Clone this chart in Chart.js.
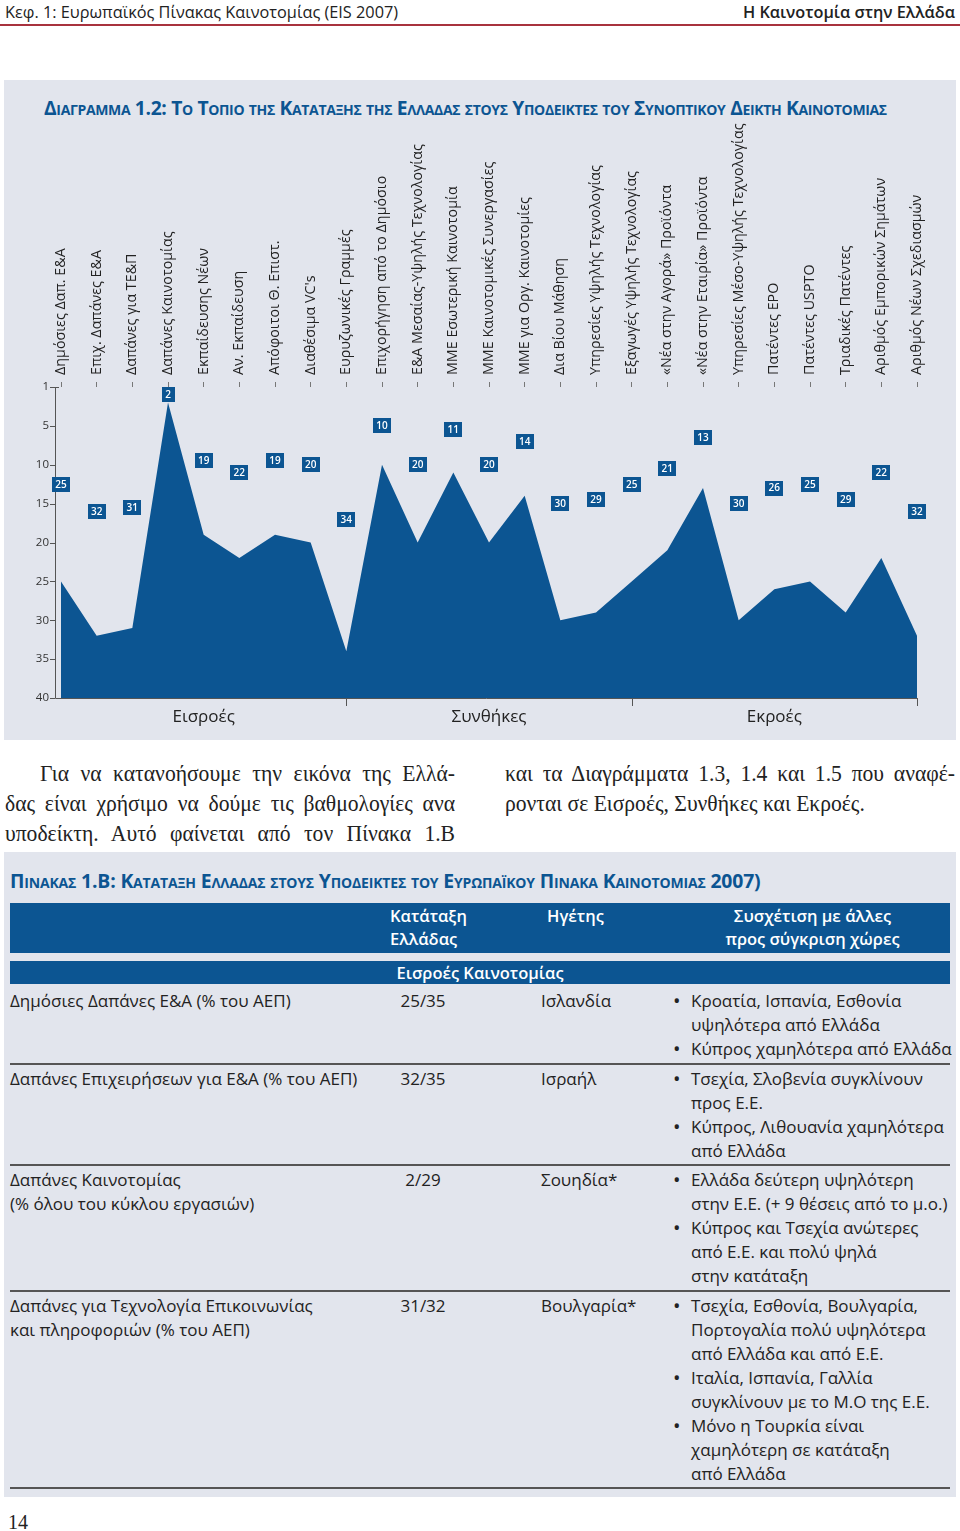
<!DOCTYPE html>
<html lang="el">
<head>
<meta charset="utf-8">
<title>Διάγραμμα 1.2</title>
<script src="https://cdn.jsdelivr.net/npm/chart.js@4.4.0/dist/chart.umd.min.js"></script>
<style>
  html, body { margin: 0; padding: 0; background: #fff; }
  body { width: 960px; height: 1531px; position: relative; overflow: hidden; font-family: "Open Sans", sans-serif; color: #222; }
  .head-l { position: absolute; left: 5px; top: 1px; font-size: 16.3px; color: #222; }
  .head-r { position: absolute; right: 5px; top: 1px; font-size: 16.3px; font-weight: 600; color: #222; }
  .head-line { position: absolute; left: 0; top: 24px; width: 960px; height: 2px; background: #a8323e; }
  .panel { position: absolute; left: 4px; top: 80px; width: 952px; height: 660px; background: #e2e5ed; }
  .title { position: absolute; left: 44px; top: 94px; font-size: 19.3px; font-weight: 700; color: #0c5592; font-variant: small-caps; letter-spacing: -0.35px; white-space: nowrap; }
  #chartBox { position: absolute; left: 4px; top: 120px; width: 952px; height: 620px; }
  .para { position: absolute; font-family: "Liberation Serif", serif; font-size: 24px; line-height: 30px; color: #222; }
  .para div { width: 500px; transform: scaleX(0.9); transform-origin: 0 0; text-align: justify; text-align-last: justify; white-space: nowrap; }
  .tpanel { position: absolute; left: 4px; top: 852px; width: 952px; height: 645px; background: #e2e5ed; }
  .ttitle { position: absolute; left: 10px; top: 867px; font-size: 19.4px; font-weight: 700; color: #0c5592; font-variant: small-caps; letter-spacing: -0.17px; white-space: nowrap; }
  .bar { position: absolute; left: 10px; width: 940px; background: #0c5592; color: #fff; font-size: 16.5px; font-weight: 600; }
  .rows { position: absolute; left: 10px; top: 987px; width: 940px; font-size: 17px; line-height: 24px; color: #222; }
  .row { display: grid; grid-template-columns: 380px 151px 134px 275px; padding: 2px 0 1.5px 0; border-bottom: 2px solid #555; white-space: nowrap; }
  .rank { display: inline-block; width: 66px; text-align: center; }
  .b { position: relative; padding-left: 16px; }
  .b::before { content: "\2022"; position: absolute; left: -2px; top: 0; font-size: 20px; }
  .pg { position: absolute; left: 8px; top: 1511px; font-family: "Liberation Serif", serif; font-size: 20px; color: #222; }
</style>
</head>
<body>
<div class="head-l">Κεφ. 1: Ευρωπαϊκός Πίνακας Καινοτομίας (EIS 2007)</div>
<div class="head-r">Η Καινοτομία στην Ελλάδα</div>
<div class="head-line"></div>

<div class="panel"></div>
<div class="title">Διαγραμμα 1.2: Το Τοπιο της Καταταξης της Ελλαδας στους Υποδεικτες του Συνοπτικου Δεικτη Καινοτομιας</div>
<div id="chartBox"><canvas id="landscape"></canvas></div>

<div class="para" style="left:5px; top:758px;">
  <div style="padding-left:39px; width:461px;">Για να κατανοήσουμε την εικόνα της Ελλά-</div>
  <div>δας είναι χρήσιμο να δούμε τις βαθμολογίες ανα</div>
  <div>υποδείκτη. Αυτό φαίνεται από τον Πίνακα 1.Β</div>
</div>
<div class="para" style="left:505px; top:758px;">
  <div>και τα Διαγράμματα 1.3, 1.4 και 1.5 που αναφέ-</div>
  <div style="text-align-last:left;">ρονται σε Εισροές, Συνθήκες και Εκροές.</div>
</div>

<div class="tpanel"></div>
<div class="ttitle">Πινακας 1.Β: Καταταξη Ελλαδας στους Υποδεικτες του Ευρωπαϊκου Πινακα Καινοτομιας 2007)</div>
<div class="bar" style="top:903px; height:50px; line-height:23px;">
  <div style="position:absolute; left:380px; top:1px;">Κατάταξη<br>Ελλάδας</div>
  <div style="position:absolute; left:537px; top:1px;">Ηγέτης</div>
  <div style="position:absolute; left:665px; width:275px; top:1px; text-align:center;">Συσχέτιση με άλλες<br>προς σύγκριση χώρες</div>
</div>
<div class="bar" style="top:961px; height:23px; line-height:23px; text-align:center;">Εισροές Καινοτομίας</div>

<div class="rows">
  <div class="row">
    <div>Δημόσιες Δαπάνες Ε&amp;Α (% του ΑΕΠ)</div>
    <div><span class="rank">25/35</span></div>
    <div>Ισλανδία</div>
    <div><div class="b">Κροατία, Ισπανία, Εσθονία<br>υψηλότερα από Ελλάδα</div><div class="b">Κύπρος χαμηλότερα από Ελλάδα</div></div>
  </div>
  <div class="row">
    <div>Δαπάνες Επιχειρήσεων για Ε&amp;Α (% του ΑΕΠ)</div>
    <div><span class="rank">32/35</span></div>
    <div>Ισραήλ</div>
    <div><div class="b">Τσεχία, Σλοβενία συγκλίνουν<br>προς Ε.Ε.</div><div class="b">Κύπρος, Λιθουανία χαμηλότερα<br>από Ελλάδα</div></div>
  </div>
  <div class="row">
    <div>Δαπάνες Καινοτομίας<br>(% όλου του κύκλου εργασιών)</div>
    <div><span class="rank">2/29</span></div>
    <div>Σουηδία*</div>
    <div><div class="b">Ελλάδα δεύτερη υψηλότερη<br>στην Ε.Ε. (+ 9 θέσεις από το μ.ο.)</div><div class="b">Κύπρος και Τσεχία ανώτερες<br>από Ε.Ε. και πολύ ψηλά<br>στην κατάταξη</div></div>
  </div>
  <div class="row">
    <div>Δαπάνες για Τεχνολογία Επικοινωνίας<br>και πληροφοριών (% του ΑΕΠ)</div>
    <div><span class="rank">31/32</span></div>
    <div>Βουλγαρία*</div>
    <div><div class="b">Τσεχία, Εσθονία, Βουλγαρία,<br>Πορτογαλία πολύ υψηλότερα<br>από Ελλάδα και από Ε.Ε.</div><div class="b">Ιταλία, Ισπανία, Γαλλία<br>συγκλίνουν με το Μ.Ο της Ε.Ε.</div><div class="b">Μόνο η Τουρκία είναι<br>χαμηλότερη σε κατάταξη<br>από Ελλάδα</div></div>
  </div>
</div>

<div class="pg">14</div>

<script>
// sub-indicators, left to right
const categories = [
  "Δημόσιες Δαπ. Ε&Α", "Επιχ. Δαπάνες Ε&Α", "Δαπάνες για ΤΕ&Π", "Δαπάνες Καινοτομίας",
  "Εκπαίδευσης Νέων", "Αν. Εκπαίδευση", "Απόφοιτοι Θ. Επιστ.", "Διαθέσιμα VC's",
  "Ευρυζωνικές Γραμμές", "Επιχορήγηση από το Δημόσιο", "Ε&Α Μεσαίας-Υψηλής Τεχνολογίας",
  "ΜΜΕ Εσωτερική Καινοτομία", "ΜΜΕ Καινοτομικές Συνεργασίες", "ΜΜΕ για Οργ. Καινοτομίες",
  "Δια Βίου Μάθηση", "Υπηρεσίες Υψηλής Τεχνολογίας", "Εξαγωγές Υψηλής Τεχνολογίας",
  "«Νέα στην Αγορά» Προϊόντα", "«Νέα στην Εταιρία» Προϊόντα", "Υπηρεσίες Μέσο-Υψηλής Τεχνολογίας",
  "Πατέντες EPO", "Πατέντες USPTO", "Τριαδικές Πατέντες", "Αριθμός Εμπορικών Σημάτων",
  "Αριθμός Νέων Σχεδιασμών"
];
// rank of Greece for each one
const ranks = [25, 32, 31, 2, 19, 22, 19, 20, 34, 10, 20, 11, 20, 14, 30, 29, 25, 21, 13, 30, 26, 25, 29, 22, 32];
const groups = ["Εισροές", "Συνθήκες", "Εκροές"];
const groupEdges = [0, 8, 16, 24];
const rankMin = 0, rankMax = 40, rankStep = 5;

const blue = "#0c5592";

// axis lines, group labels and the little rank boxes
const extras = {
  id: "extras",
  afterDatasetsDraw: function (chart) {
    var ctx = chart.ctx;
    var area = chart.chartArea;
    var x = chart.scales.x, y = chart.scales.y;
    var axisX = area.left - 6;
    ctx.save();
    ctx.strokeStyle = "#555";
    ctx.lineWidth = 1;
    ctx.beginPath();
    ctx.moveTo(axisX + 0.5, area.top);
    ctx.lineTo(axisX + 0.5, area.bottom + 0.5);
    ctx.lineTo(area.right, area.bottom + 0.5);
    y.ticks.forEach(function (t) {
      var py = Math.round(y.getPixelForValue(t.value)) + 0.5;
      ctx.moveTo(axisX - 5, py);
      ctx.lineTo(axisX + (t.value === rankMin ? 4 : 0), py);
    });
    groupEdges.slice(1).forEach(function (i) {
      var px = Math.round(x.getPixelForValue(i)) + 0.5;
      ctx.moveTo(px, area.bottom);
      ctx.lineTo(px, area.bottom + 8);
    });
    ctx.stroke();

    ctx.fillStyle = "#222";
    ctx.font = "17px 'Open Sans'";
    ctx.textAlign = "center";
    ctx.textBaseline = "middle";
    groups.forEach(function (g, k) {
      var mid = (x.getPixelForValue(groupEdges[k]) + x.getPixelForValue(groupEdges[k + 1])) / 2;
      ctx.fillText(g, mid, area.bottom + 19);
    });

    ctx.font = "600 10px 'Open Sans'";
    ranks.forEach(function (r, i) {
      var px = x.getPixelForValue(i);
      var py = y.getPixelForValue(r / 2);
      var w = r < 10 ? 13 : 18;
      ctx.fillStyle = blue;
      ctx.fillRect(Math.round(px - w / 2), Math.round(py - 7.5), w, 15);
      ctx.fillStyle = "#fff";
      ctx.fillText(String(r), px, py + 0.5);
    });
    ctx.restore();
  }
};

var ctx = document.getElementById("landscape").getContext("2d");
var landscape = new Chart(ctx, {
  type: "line",
  data: {
    labels: categories,
    datasets: [
      {
        data: ranks,
        fill: "start",
        backgroundColor: blue,
        borderColor: blue,
        borderWidth: 0,
        pointRadius: 0,
        tension: 0
      }
    ]
  },
  options: {
    responsive: true,
    maintainAspectRatio: false,
    animation: false,
    events: [],
    layout: { padding: { left: 0, right: 39, top: 0, bottom: 42 } },
    plugins: { legend: { display: false }, tooltip: { enabled: false } },
    scales: {
      x: {
        position: "top",
        offset: false,
        afterFit: function (s) { s.height = 267; },
        grid: { display: true, drawOnChartArea: false, drawTicks: true, tickLength: 5, color: "#777" },
        border: { display: false },
        ticks: {
          autoSkip: false,
          minRotation: 90,
          maxRotation: 90,
          padding: 7,
          labelOffset: 17,
          color: "#222",
          font: { family: "Open Sans", size: 14.3 }
        }
      },
      y: {
        reverse: true,
        min: rankMin,
        max: rankMax,
        afterFit: function (s) { s.width = 57; },
        grid: { display: false, drawTicks: false },
        border: { display: false },
        ticks: {
          stepSize: rankStep,
          padding: 12,
          color: "#333",
          font: { family: "Open Sans", size: 11.5 },
          callback: function (v) { return v === rankMin ? "1" : v; }
        }
      }
    }
  },
  plugins: [extras]
});
</script>
</body>
</html>
